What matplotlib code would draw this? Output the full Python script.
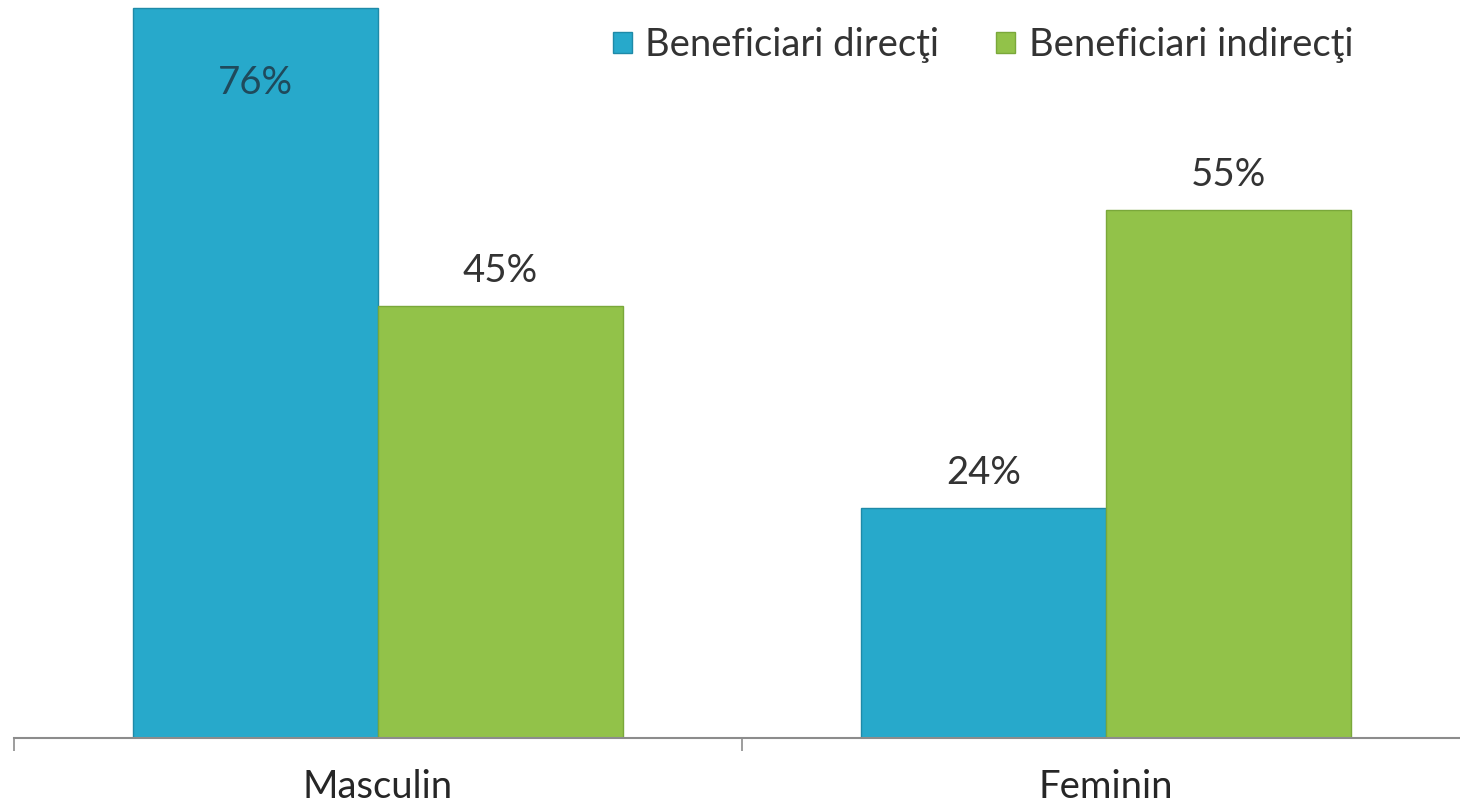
import matplotlib
matplotlib.use("Agg")
import matplotlib.pyplot as plt
import numpy as np
from matplotlib.patches import Patch

categories = ["Masculin", "Feminin"]
series_names = ["Beneficiari direcţi", "Beneficiari indirecţi"]
direct = [76, 24]
indirect = [45, 55]
labels_direct = ["76%", "24%"]
labels_indirect = ["45%", "55%"]

colors = ["#27A9CB", "#92C249"]
edge = ["#1E8AA8", "#7AA83A"]

plt.rcParams['font.family'] = ['Lato', 'DejaVu Sans']

W, H = 1460, 806
fig = plt.figure(figsize=(W / 100, H / 100), dpi=100)
ax = fig.add_axes([14 / W, 68 / H, 1456 / W, 768 / H])

x = np.arange(len(categories))
bw = 0.336
off = bw / 2
ax.bar(x - off, direct, bw, color=colors[0], edgecolor=edge[0], linewidth=1.0)
ax.bar(x + off, indirect, bw, color=colors[1], edgecolor=edge[1], linewidth=1.0)

ax.set_xlim(-0.5, 1.5)
ax.set_ylim(0, 80)

for spine in ["top", "left", "right"]:
    ax.spines[spine].set_visible(False)
ax.spines["bottom"].set_color("#8c8c8c")
ax.spines["bottom"].set_linewidth(1.5)
ax.set_yticks([])

fs = 27.5
ax.set_xticks(x)
ax.set_xticklabels(categories, fontsize=fs, color="#262626")
ax.tick_params(axis="x", which="major", length=0, pad=22)
ax.set_xticks([-0.5, 0.5, 1.5], minor=True)
ax.tick_params(axis="x", which="minor", length=9, width=1.2, color="#8c8c8c", direction="out")

for i, (v, lab) in enumerate(zip(direct, labels_direct)):
    if v > 70:
        ax.annotate(lab, (x[i] - off, v), xytext=(0, -54), textcoords="offset points",
                    ha="center", va="center", fontsize=fs, color="#1F4A5C")
    else:
        ax.annotate(lab, (x[i] - off, v), xytext=(0, 25), textcoords="offset points",
                    ha="center", va="center", fontsize=fs, color="#333333")
for i, (v, lab) in enumerate(zip(indirect, labels_indirect)):
    ax.annotate(lab, (x[i] + off, v), xytext=(0, 25), textcoords="offset points",
                ha="center", va="center", fontsize=fs, color="#333333")

handles = [Patch(facecolor=colors[0], edgecolor=edge[0]), Patch(facecolor=colors[1], edgecolor=edge[1])]
fig.legend(handles, series_names, loc="center", bbox_to_anchor=(983 / W, 1 - 45 / H),
           ncol=2, frameon=False, fontsize=fs, handlelength=0.5, handleheight=0.5,
           handletextpad=0.35, columnspacing=1.5, labelcolor="#333333")

fig.savefig("out.png", dpi=100)
